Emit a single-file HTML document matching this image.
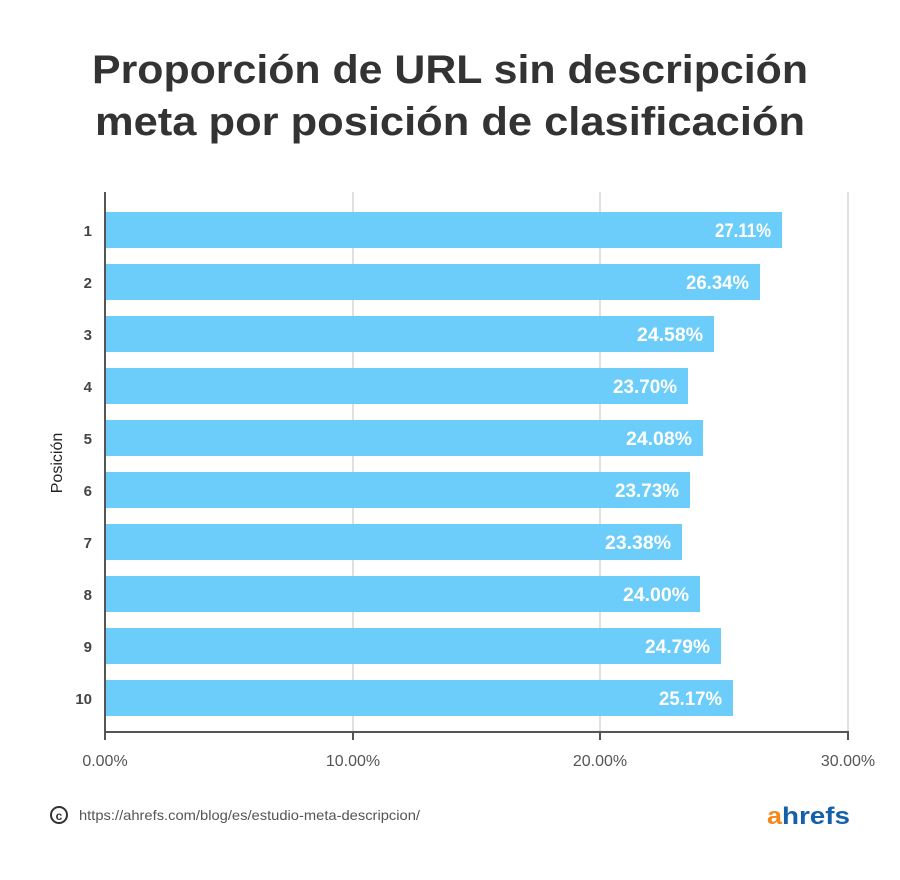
<!DOCTYPE html>
<html><head><meta charset="utf-8"><style>body{margin:0;background:#fff}</style></head><body>
<svg width="900" height="875" xmlns="http://www.w3.org/2000/svg" font-family="Liberation Sans, sans-serif">
<rect width="900" height="875" fill="#fff"/>
<text x="450" y="83" text-anchor="middle" font-size="40" font-weight="bold" fill="#333" textLength="716" lengthAdjust="spacingAndGlyphs">Proporción de URL sin descripción</text>
<text x="450" y="135" text-anchor="middle" font-size="40" font-weight="bold" fill="#333" textLength="710" lengthAdjust="spacingAndGlyphs">meta por posición de clasificación</text>
<g stroke="#e0e0e0" stroke-width="2">
<line x1="353" y1="192" x2="353" y2="732"/><line x1="600" y1="192" x2="600" y2="732"/><line x1="848" y1="192" x2="848" y2="732"/>
</g>
<g fill="#6ccdfa">
<rect x="105" y="212" width="677" height="36"/>
<rect x="105" y="264" width="655" height="36"/>
<rect x="105" y="316" width="609" height="36"/>
<rect x="105" y="368" width="583" height="36"/>
<rect x="105" y="420" width="598" height="36"/>
<rect x="105" y="472" width="585" height="36"/>
<rect x="105" y="524" width="577" height="36"/>
<rect x="105" y="576" width="595" height="36"/>
<rect x="105" y="628" width="616" height="36"/>
<rect x="105" y="680" width="628" height="36"/>
</g>
<g stroke="#555" stroke-width="2">
<line x1="105" y1="192" x2="105" y2="732"/><line x1="104" y1="732" x2="849" y2="732"/>
<line x1="105" y1="732" x2="105" y2="740"/><line x1="353" y1="732" x2="353" y2="740"/><line x1="600" y1="732" x2="600" y2="740"/><line x1="848" y1="732" x2="848" y2="740"/>
</g>
<g fill="#fff" font-size="19" font-weight="bold" text-anchor="end" lengthAdjust="spacingAndGlyphs">
<text x="771" y="237" textLength="56" lengthAdjust="spacingAndGlyphs">27.11%</text><text x="749" y="289" textLength="63" lengthAdjust="spacingAndGlyphs">26.34%</text><text x="703" y="341" textLength="66" lengthAdjust="spacingAndGlyphs">24.58%</text><text x="677" y="393" textLength="64" lengthAdjust="spacingAndGlyphs">23.70%</text><text x="692" y="445" textLength="66" lengthAdjust="spacingAndGlyphs">24.08%</text><text x="679" y="497" textLength="64" lengthAdjust="spacingAndGlyphs">23.73%</text><text x="671" y="549" textLength="66" lengthAdjust="spacingAndGlyphs">23.38%</text><text x="689" y="601" textLength="66" lengthAdjust="spacingAndGlyphs">24.00%</text><text x="710" y="653" textLength="65" lengthAdjust="spacingAndGlyphs">24.79%</text><text x="722" y="705" textLength="63" lengthAdjust="spacingAndGlyphs">25.17%</text>
</g>
<g fill="#444" font-size="15" font-weight="bold" text-anchor="end">
<text x="92" y="236">1</text><text x="92" y="288">2</text><text x="92" y="340">3</text><text x="92" y="392">4</text><text x="92" y="444">5</text><text x="92" y="496">6</text><text x="92" y="548">7</text><text x="92" y="600">8</text><text x="92" y="652">9</text><text x="92" y="704">10</text>
</g>
<text transform="translate(62,463) rotate(-90)" text-anchor="middle" font-size="16" fill="#222">Posición</text>
<g fill="#555" font-size="16" text-anchor="middle">
<text x="105" y="766">0.00%</text><text x="353" y="766">10.00%</text><text x="600" y="766">20.00%</text><text x="848" y="766">30.00%</text>
</g>
<circle cx="59" cy="815" r="8" fill="none" stroke="#333" stroke-width="2"/>
<text x="59" y="820" text-anchor="middle" font-size="12" font-weight="bold" fill="#333">c</text>
<text x="79" y="820" font-size="14" fill="#555" textLength="341" lengthAdjust="spacingAndGlyphs">https://ahrefs.com/blog/es/estudio-meta-descripcion/</text>
<text x="767" y="824" font-size="24" font-weight="bold" fill="#f5871f" textLength="15" lengthAdjust="spacingAndGlyphs">a</text>
<text x="782" y="824" font-size="24" font-weight="bold" fill="#1460aa" textLength="68" lengthAdjust="spacingAndGlyphs">hrefs</text>
</svg>
</body></html>
